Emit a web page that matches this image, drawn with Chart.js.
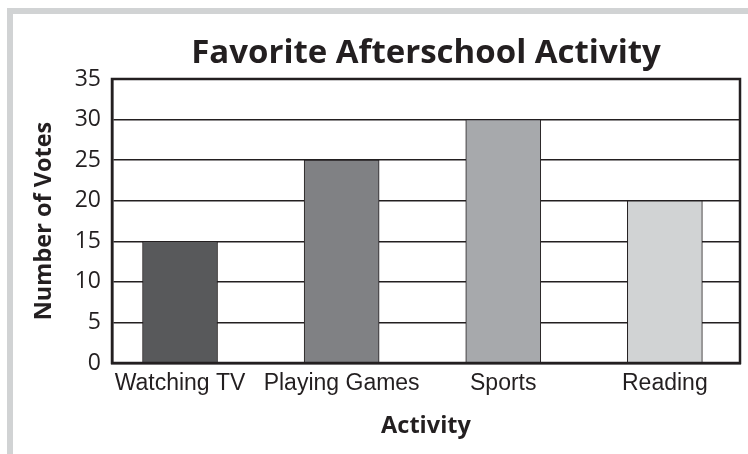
<!DOCTYPE html>
<html>
<head>
<meta charset="utf-8">
<script src="https://cdn.jsdelivr.net/npm/chart.js@4"></script>
<style>
  html, body { margin: 0; padding: 0; background: #fff; }
  #frame {
    position: absolute; left: 7px; top: 8px; width: 760px; height: 460px;
    border-top: 6px solid #d1d3d4; border-left: 6px solid #d1d3d4;
  }
  #wrap { position: absolute; left: 0; top: 0; width: 748px; height: 454px; }
</style>
</head>
<body>
<div id="frame"></div>
<div id="wrap"><canvas id="chart"></canvas></div>
<script>
// chart data
const categories = ['Watching TV', 'Playing Games', 'Sports', 'Reading'];
const votes = [15, 25, 30, 20];
const barColors = ['#58595b', '#808184', '#a7a9ac', '#d1d3d4'];
const yTicks = [0, 5, 10, 15, 20, 25, 30, 35];
const chartTitle = 'Favorite Afterschool Activity';

const ink = '#231f20';

// outline round the plot area + title centred over it
const plotBorder = {
    id: 'plotBorder',
    afterDraw(chart) {
        const a = chart.chartArea;
        const ctx = chart.ctx;
        ctx.save();
        ctx.strokeStyle = ink;
        ctx.lineWidth = 2.5;
        ctx.strokeRect(a.left, a.top, a.right - a.left, a.bottom - a.top);

        ctx.fillStyle = ink;
        ctx.font = 'bold 33px "Open Sans"';
        ctx.textAlign = 'center';
        ctx.textBaseline = 'alphabetic';
        ctx.fillText(chartTitle, (a.left + a.right) / 2, 63);
        ctx.restore();
    }
};

new Chart(document.getElementById('chart'), {
    type: 'bar',
    data: {
        datasets: [{
            data: votes.map((v, i) => ({ x: i, y: v })),
            backgroundColor: barColors,
            borderColor: ink,
            borderWidth: 1,
            barThickness: 75
        }]
    },
    options: {
        responsive: true,
        maintainAspectRatio: false,
        animation: false,
        layout: { padding: { left: 26, right: 8, top: 79, bottom: 10 } },
        plugins: {
            legend: { display: false },
            tooltip: { enabled: false }
        },
        scales: {
            x: {
                type: 'linear',
                offset: false,
                min: -0.421, max: 3.465,
                afterBuildTicks(axis) { axis.ticks = categories.map((c, i) => ({ value: i })); },
                grid: { display: false, drawTicks: false, offset: false },
                border: { color: ink, width: 2.5 },
                ticks: {
                    color: ink, font: { family: 'Liberation Sans', size: 23 }, padding: 7,
                    maxRotation: 0, autoSkip: false,
                    callback: v => categories[v]
                },
                title: {
                    display: true, text: 'Activity', color: ink,
                    font: { family: 'Open Sans', size: 23.5, weight: 'bold' }, padding: { top: 12 }
                },
                afterFit(axis) { axis.height = 81; }
            },
            y: {
                min: 0, max: 35,
                afterBuildTicks(axis) { axis.ticks = yTicks.map(v => ({ value: v })); },
                grid: { color: ink, lineWidth: 1.5, drawTicks: false },
                border: { color: ink, width: 2.5 },
                ticks: { color: ink, font: { family: 'Open Sans', size: 23 }, padding: 11 },
                title: {
                    display: true, text: 'Number of Votes', color: ink,
                    font: { family: 'Open Sans', size: 23.5, weight: 'bold' }
                },
                afterFit(axis) { axis.width = 86; }
            }
        }
    },
    plugins: [plotBorder]
});
</script>
</body>
</html>
